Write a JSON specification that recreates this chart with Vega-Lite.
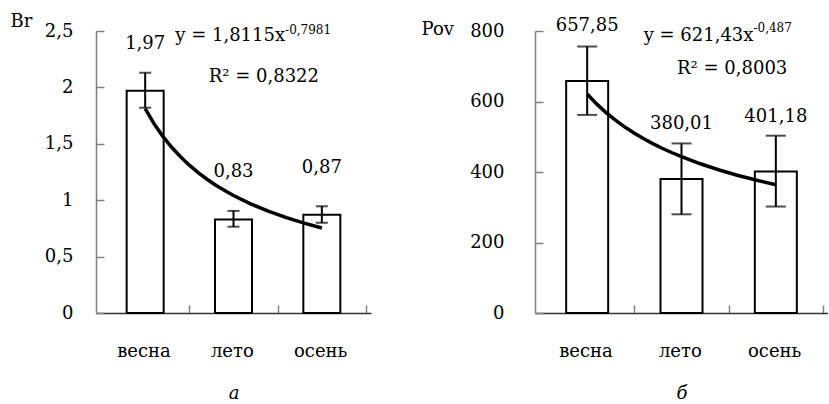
{
  "$schema": "https://vega.github.io/schema/vega-lite/v6.json",
  "background": "white",
  "padding": {"left": 10, "top": 12, "right": 0, "bottom": 0},
  "bounds": "flush",
  "spacing": 164,
  "config": {
    "font": "DejaVu Serif",
    "view": {"stroke": null},
    "axis": {
      "labelFont": "DejaVu Serif",
      "labelFontSize": 18,
      "labelColor": "black",
      "titleFont": "DejaVu Serif",
      "titleFontSize": 18,
      "titleFontWeight": "normal",
      "titleColor": "black",
      "grid": false,
      "tickSize": -8,
      "tickColor": "#808080",
      "tickWidth": 1.5,
      "domainWidth": 1.5
    },
    "text": {"font": "DejaVu Serif", "fontSize": 18, "color": "black"}
  },
  "datasets": {
    "br": [
      {"season": "весна", "idx": 1, "value": 1.97, "lo": 1.82, "hi": 2.13, "label": "1,97"},
      {"season": "лето", "idx": 2, "value": 0.83, "lo": 0.765, "hi": 0.905, "label": "0,83"},
      {"season": "осень", "idx": 3, "value": 0.87, "lo": 0.8, "hi": 0.946, "label": "0,87"}
    ],
    "brtrend": [
      {"x": 1.0, "y": 1.8115}, {"x": 1.1, "y": 1.6788}, {"x": 1.2, "y": 1.5662},
      {"x": 1.3, "y": 1.4693}, {"x": 1.4, "y": 1.3849}, {"x": 1.5, "y": 1.3107},
      {"x": 1.6, "y": 1.2449}, {"x": 1.7, "y": 1.1861}, {"x": 1.8, "y": 1.1332},
      {"x": 1.9, "y": 1.0854}, {"x": 2.0, "y": 1.0418}, {"x": 2.2, "y": 0.9655},
      {"x": 2.4, "y": 0.9008}, {"x": 2.6, "y": 0.845}, {"x": 2.8, "y": 0.7965},
      {"x": 3.0, "y": 0.7538}
    ],
    "pov": [
      {"season": "весна", "idx": 1, "value": 657.85, "lo": 562, "hi": 756, "label": "657,85"},
      {"season": "лето", "idx": 2, "value": 380.01, "lo": 280, "hi": 481, "label": "380,01"},
      {"season": "осень", "idx": 3, "value": 401.18, "lo": 302, "hi": 503, "label": "401,18"}
    ],
    "povtrend": [
      {"x": 1.0, "y": 621.43}, {"x": 1.1, "y": 593.2}, {"x": 1.2, "y": 568.6},
      {"x": 1.3, "y": 546.9}, {"x": 1.4, "y": 527.5}, {"x": 1.5, "y": 510.1},
      {"x": 1.6, "y": 494.3}, {"x": 1.7, "y": 479.9}, {"x": 1.8, "y": 466.7},
      {"x": 1.9, "y": 454.6}, {"x": 2.0, "y": 443.4}, {"x": 2.2, "y": 423.3},
      {"x": 2.4, "y": 405.7}, {"x": 2.6, "y": 390.2}, {"x": 2.8, "y": 376.4},
      {"x": 3.0, "y": 364.0}
    ]
  },
  "hconcat": [
    {
      "width": 275,
      "height": 282,
      "layer": [
        {
          "data": {"name": "br"},
          "mark": {"type": "bar", "orient": "vertical", "size": 37, "fill": "white", "stroke": "black", "strokeWidth": 2},
          "encoding": {
            "x": {
              "field": "idx", "type": "quantitative",
              "scale": {"domain": [0.5, 3.5], "nice": false, "zero": false},
              "axis": {
                "values": [1.5, 2.5, 3.5],
                "labelExpr": "datum.value == 1.5 ? 'весна' : datum.value == 2.5 ? 'лето' : 'осень'",
                "labelOffset": -45.8,
                "labelFlush": false,
                "labelBound": false,
                "labelOverlap": false,
                "labelPadding": 37,
                "domainColor": "#333333",
                "title": "а",
                "titleFontStyle": "italic",
                "titlePadding": 24
              }
            },
            "y": {
              "field": "value", "type": "quantitative",
              "scale": {"domain": [0, 2.5], "nice": false},
              "axis": {
                "values": [0, 0.5, 1, 1.5, 2, 2.5],
                "labelExpr": "replace('' + datum.value, '.', ',')",
                "labelPadding": 31,
                "domainColor": "#808080",
                "title": "Br",
                "titleAngle": 0,
                "titleAlign": "left",
                "titleBaseline": "alphabetic",
                "titleX": -86,
                "titleY": -5
              }
            }
          }
        },
        {
          "data": {"name": "br"},
          "mark": {"type": "rule", "color": "black", "strokeWidth": 2},
          "encoding": {
            "x": {"field": "idx", "type": "quantitative"},
            "y": {"field": "lo", "type": "quantitative"},
            "y2": {"field": "hi"}
          }
        },
        {
          "data": {"name": "br"},
          "mark": {"type": "tick", "orient": "horizontal", "size": 12, "thickness": 2, "color": "black"},
          "encoding": {
            "x": {"field": "idx", "type": "quantitative"},
            "y": {"field": "hi", "type": "quantitative"}
          }
        },
        {
          "data": {"name": "br"},
          "mark": {"type": "tick", "orient": "horizontal", "size": 12, "thickness": 2, "color": "black"},
          "encoding": {
            "x": {"field": "idx", "type": "quantitative"},
            "y": {"field": "lo", "type": "quantitative"}
          }
        },
        {
          "data": {"name": "brtrend"},
          "mark": {"type": "line", "color": "black", "strokeWidth": 3.5},
          "encoding": {
            "x": {"field": "x", "type": "quantitative"},
            "y": {"field": "y", "type": "quantitative"}
          }
        },
        {
          "data": {"name": "br"},
          "mark": {"type": "text", "align": "center", "baseline": "middle", "dy": -47},
          "encoding": {
            "x": {"field": "idx", "type": "quantitative"},
            "y": {"field": "value", "type": "quantitative"},
            "text": {"field": "label"}
          }
        },
        {
          "data": {"values": [{"x": 2.584, "y": 2.411, "t": "y = 1,8115x"}]},
          "mark": {"type": "text", "align": "right", "baseline": "alphabetic"},
          "encoding": {
            "x": {"field": "x", "type": "quantitative"},
            "y": {"field": "y", "type": "quantitative"},
            "text": {"field": "t"}
          }
        },
        {
          "data": {"values": [{"x": 2.584, "y": 2.473, "t": "-0,7981"}]},
          "mark": {"type": "text", "align": "left", "baseline": "alphabetic", "fontSize": 12},
          "encoding": {
            "x": {"field": "x", "type": "quantitative"},
            "y": {"field": "y", "type": "quantitative"},
            "text": {"field": "t"}
          }
        },
        {
          "data": {"values": [{"x": 2.344, "y": 2.048, "t": "R² = 0,8322"}]},
          "mark": {"type": "text", "align": "center", "baseline": "alphabetic"},
          "encoding": {
            "x": {"field": "x", "type": "quantitative"},
            "y": {"field": "y", "type": "quantitative"},
            "text": {"field": "t"}
          }
        }
      ]
    },
    {
      "width": 293,
      "height": 282,
      "layer": [
        {
          "data": {"name": "pov"},
          "mark": {"type": "bar", "orient": "vertical", "size": 42, "fill": "white", "stroke": "black", "strokeWidth": 2},
          "encoding": {
            "x": {
              "field": "idx", "type": "quantitative",
              "scale": {"domain": [0.5, 3.5], "nice": false, "zero": false},
              "axis": {
                "values": [1.5, 2.5, 3.5],
                "labelExpr": "datum.value == 1.5 ? 'весна' : datum.value == 2.5 ? 'лето' : 'осень'",
                "labelOffset": -48.8,
                "labelFlush": false,
                "labelBound": false,
                "labelOverlap": false,
                "labelPadding": 37,
                "domainColor": "#333333",
                "title": "б",
                "titleFontStyle": "italic",
                "titlePadding": 24
              }
            },
            "y": {
              "field": "value", "type": "quantitative",
              "scale": {"domain": [0, 800], "nice": false},
              "axis": {
                "values": [0, 200, 400, 600, 800],
                "labelPadding": 39,
                "domainColor": "#808080",
                "title": "Pov",
                "titleAngle": 0,
                "titleAlign": "left",
                "titleBaseline": "alphabetic",
                "titleX": -114,
                "titleY": 3
              }
            }
          }
        },
        {
          "data": {"name": "pov"},
          "mark": {"type": "rule", "color": "black", "strokeWidth": 2},
          "encoding": {
            "x": {"field": "idx", "type": "quantitative"},
            "y": {"field": "lo", "type": "quantitative"},
            "y2": {"field": "hi"}
          }
        },
        {
          "data": {"name": "pov"},
          "mark": {"type": "tick", "orient": "horizontal", "size": 20, "thickness": 2, "color": "black"},
          "encoding": {
            "x": {"field": "idx", "type": "quantitative"},
            "y": {"field": "hi", "type": "quantitative"}
          }
        },
        {
          "data": {"name": "pov"},
          "mark": {"type": "tick", "orient": "horizontal", "size": 20, "thickness": 2, "color": "black"},
          "encoding": {
            "x": {"field": "idx", "type": "quantitative"},
            "y": {"field": "lo", "type": "quantitative"}
          }
        },
        {
          "data": {"name": "povtrend"},
          "mark": {"type": "line", "color": "black", "strokeWidth": 3.5},
          "encoding": {
            "x": {"field": "x", "type": "quantitative"},
            "y": {"field": "y", "type": "quantitative"}
          }
        },
        {
          "data": {"name": "pov"},
          "mark": {"type": "text", "align": "center", "baseline": "middle", "dy": -55},
          "encoding": {
            "x": {"field": "idx", "type": "quantitative"},
            "y": {"field": "value", "type": "quantitative"},
            "text": {"field": "label"}
          }
        },
        {
          "data": {"values": [{"x": 2.763, "y": 771.6, "t": "y = 621,43x"}]},
          "mark": {"type": "text", "align": "right", "baseline": "alphabetic"},
          "encoding": {
            "x": {"field": "x", "type": "quantitative"},
            "y": {"field": "y", "type": "quantitative"},
            "text": {"field": "t"}
          }
        },
        {
          "data": {"values": [{"x": 2.763, "y": 797, "t": "-0,487"}]},
          "mark": {"type": "text", "align": "left", "baseline": "alphabetic", "fontSize": 12},
          "encoding": {
            "x": {"field": "x", "type": "quantitative"},
            "y": {"field": "y", "type": "quantitative"},
            "text": {"field": "t"}
          }
        },
        {
          "data": {"values": [{"x": 2.537, "y": 678, "t": "R² = 0,8003"}]},
          "mark": {"type": "text", "align": "center", "baseline": "alphabetic"},
          "encoding": {
            "x": {"field": "x", "type": "quantitative"},
            "y": {"field": "y", "type": "quantitative"},
            "text": {"field": "t"}
          }
        }
      ]
    }
  ]
}
